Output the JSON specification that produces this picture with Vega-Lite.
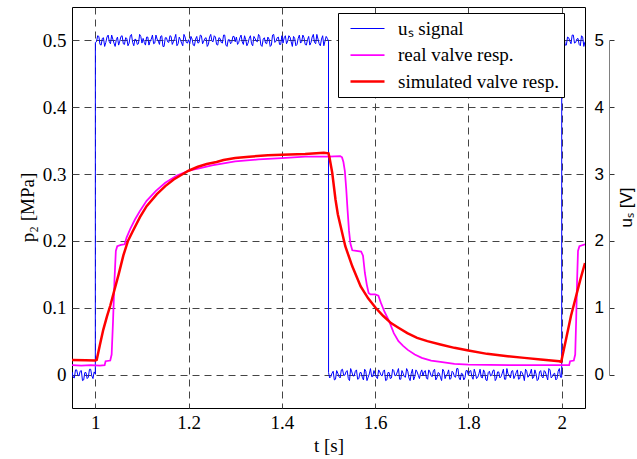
{
  "$schema": "https://vega.github.io/schema/vega-lite/v6.json",
  "width": 513,
  "height": 401,
  "autosize": {"type": "none"},
  "padding": {"left": 72, "top": 7, "right": 52, "bottom": 51},
  "background": "white",
  "config": {
    "view": {"stroke": "#000000", "strokeWidth": 1},
    "font": "Liberation Serif",
    "legend": {
      "title": null, "orient": "none", "legendX": 266, "legendY": 6,
      "symbolType": "M-1.7,0H1.7", "symbolSize": 400, "symbolOffset": 13,
      "labelFont": "Liberation Serif", "labelFontSize": 19, "labelColor": "#000000", "labelOffset": 19, "labelLimit": 400,
      "rowPadding": 5, "padding": 5,
      "fillColor": "#FFFFFF", "strokeColor": "#000000"
    }
  },
  "datasets": {
    "us": [
      {"t": 0.95, "u": 0.04}, {"t": 0.955, "u": -0.05}, {"t": 0.96, "u": 0.07}, {"t": 0.965, "u": -0.02}, {"t": 0.97, "u": 0.06}, {"t": 0.975, "u": -0.08}, {"t": 0.98, "u": 0.03}, {"t": 0.985, "u": -0.04}, {"t": 0.99, "u": 0.08}, {"t": 0.995, "u": -0.06}, {"t": 1.0, "u": 0.01},
      {"t": 1.0001, "u": 4.97}, {"t": 1.005, "u": 5.07}, {"t": 1.01, "u": 4.94}, {"t": 1.015, "u": 5.03}, {"t": 1.02, "u": 4.91}, {"t": 1.025, "u": 5.05}, {"t": 1.03, "u": 4.98}, {"t": 1.035, "u": 5.08}, {"t": 1.04, "u": 4.96}, {"t": 1.045, "u": 5.01}, {"t": 1.05, "u": 4.93}, {"t": 1.055, "u": 5.06}, {"t": 1.06, "u": 4.95}, {"t": 1.065, "u": 5.04}, {"t": 1.07, "u": 4.92}, {"t": 1.075, "u": 5.07}, {"t": 1.08, "u": 4.97}, {"t": 1.085, "u": 5.02}, {"t": 1.09, "u": 4.94}, {"t": 1.095, "u": 5.09}, {"t": 1.1, "u": 4.96},
      {"t": 1.105, "u": 4.97}, {"t": 1.11, "u": 5.05}, {"t": 1.115, "u": 4.93}, {"t": 1.12, "u": 5.02}, {"t": 1.125, "u": 4.95}, {"t": 1.13, "u": 5.08}, {"t": 1.135, "u": 4.99}, {"t": 1.14, "u": 5.06}, {"t": 1.145, "u": 4.91}, {"t": 1.15, "u": 5.04}, {"t": 1.155, "u": 4.98}, {"t": 1.16, "u": 5.07}, {"t": 1.165, "u": 4.94}, {"t": 1.17, "u": 5.03}, {"t": 1.175, "u": 4.92}, {"t": 1.18, "u": 5.05}, {"t": 1.185, "u": 4.96}, {"t": 1.19, "u": 5.09}, {"t": 1.195, "u": 4.97}, {"t": 1.2, "u": 5.01},
      {"t": 1.205, "u": 5.06}, {"t": 1.21, "u": 4.93}, {"t": 1.215, "u": 5.02}, {"t": 1.22, "u": 4.96}, {"t": 1.225, "u": 5.08}, {"t": 1.23, "u": 4.95}, {"t": 1.235, "u": 5.03}, {"t": 1.24, "u": 4.91}, {"t": 1.245, "u": 5.05}, {"t": 1.25, "u": 4.99}, {"t": 1.255, "u": 5.07}, {"t": 1.26, "u": 4.94}, {"t": 1.265, "u": 5.04}, {"t": 1.27, "u": 4.97}, {"t": 1.275, "u": 5.08}, {"t": 1.28, "u": 4.93}, {"t": 1.285, "u": 5.01}, {"t": 1.29, "u": 4.95}, {"t": 1.295, "u": 5.06}, {"t": 1.3, "u": 4.98},
      {"t": 1.305, "u": 4.94}, {"t": 1.31, "u": 5.04}, {"t": 1.315, "u": 4.98}, {"t": 1.32, "u": 5.07}, {"t": 1.325, "u": 4.92}, {"t": 1.33, "u": 5.03}, {"t": 1.335, "u": 4.95}, {"t": 1.34, "u": 5.06}, {"t": 1.345, "u": 4.99}, {"t": 1.35, "u": 5.09}, {"t": 1.355, "u": 4.93}, {"t": 1.36, "u": 5.02}, {"t": 1.365, "u": 4.96}, {"t": 1.37, "u": 5.05}, {"t": 1.375, "u": 4.91}, {"t": 1.38, "u": 5.08}, {"t": 1.385, "u": 4.97}, {"t": 1.39, "u": 5.04}, {"t": 1.395, "u": 4.94}, {"t": 1.4, "u": 5.07},
      {"t": 1.405, "u": 5.04}, {"t": 1.41, "u": 4.95}, {"t": 1.415, "u": 5.07}, {"t": 1.42, "u": 4.98}, {"t": 1.425, "u": 5.06}, {"t": 1.43, "u": 4.92}, {"t": 1.435, "u": 5.03}, {"t": 1.44, "u": 4.96}, {"t": 1.445, "u": 5.08}, {"t": 1.45, "u": 4.94}, {"t": 1.455, "u": 5.01}, {"t": 1.46, "u": 4.93}, {"t": 1.465, "u": 5.05}, {"t": 1.47, "u": 4.97}, {"t": 1.475, "u": 5.09}, {"t": 1.48, "u": 4.95}, {"t": 1.485, "u": 5.02}, {"t": 1.49, "u": 4.92}, {"t": 1.495, "u": 5.06}, {"t": 1.5, "u": 4.99},
      {"t": 1.5001, "u": 0.03},
      {"t": 1.505, "u": -0.03}, {"t": 1.51, "u": 0.05}, {"t": 1.515, "u": -0.07}, {"t": 1.52, "u": 0.02}, {"t": 1.525, "u": -0.05}, {"t": 1.53, "u": 0.08}, {"t": 1.535, "u": -0.01}, {"t": 1.54, "u": 0.06}, {"t": 1.545, "u": -0.09}, {"t": 1.55, "u": 0.04}, {"t": 1.555, "u": -0.02}, {"t": 1.56, "u": 0.07}, {"t": 1.565, "u": -0.06}, {"t": 1.57, "u": 0.03}, {"t": 1.575, "u": -0.08}, {"t": 1.58, "u": 0.05}, {"t": 1.585, "u": -0.04}, {"t": 1.59, "u": 0.09}, {"t": 1.595, "u": -0.03}, {"t": 1.6, "u": 0.01},
      {"t": 1.605, "u": -0.06}, {"t": 1.61, "u": 0.04}, {"t": 1.615, "u": -0.02}, {"t": 1.62, "u": 0.07}, {"t": 1.625, "u": -0.08}, {"t": 1.63, "u": 0.03}, {"t": 1.635, "u": -0.05}, {"t": 1.64, "u": 0.06}, {"t": 1.645, "u": -0.01}, {"t": 1.65, "u": 0.09}, {"t": 1.655, "u": -0.07}, {"t": 1.66, "u": 0.02}, {"t": 1.665, "u": -0.04}, {"t": 1.67, "u": 0.05}, {"t": 1.675, "u": -0.09}, {"t": 1.68, "u": 0.08}, {"t": 1.685, "u": -0.03}, {"t": 1.69, "u": 0.04}, {"t": 1.695, "u": -0.06}, {"t": 1.7, "u": 0.07},
      {"t": 1.705, "u": 0.04}, {"t": 1.71, "u": -0.05}, {"t": 1.715, "u": 0.07}, {"t": 1.72, "u": -0.02}, {"t": 1.725, "u": 0.06}, {"t": 1.73, "u": -0.08}, {"t": 1.735, "u": 0.03}, {"t": 1.74, "u": -0.04}, {"t": 1.745, "u": 0.08}, {"t": 1.75, "u": -0.06}, {"t": 1.755, "u": 0.01}, {"t": 1.76, "u": -0.07}, {"t": 1.765, "u": 0.05}, {"t": 1.77, "u": -0.03}, {"t": 1.775, "u": 0.09}, {"t": 1.78, "u": -0.05}, {"t": 1.785, "u": 0.02}, {"t": 1.79, "u": -0.08}, {"t": 1.795, "u": 0.06}, {"t": 1.8, "u": -0.01},
      {"t": 1.805, "u": 0.06}, {"t": 1.81, "u": -0.07}, {"t": 1.815, "u": 0.02}, {"t": 1.82, "u": -0.04}, {"t": 1.825, "u": 0.08}, {"t": 1.83, "u": -0.05}, {"t": 1.835, "u": 0.03}, {"t": 1.84, "u": -0.09}, {"t": 1.845, "u": 0.05}, {"t": 1.85, "u": -0.01}, {"t": 1.855, "u": 0.07}, {"t": 1.86, "u": -0.06}, {"t": 1.865, "u": 0.04}, {"t": 1.87, "u": -0.03}, {"t": 1.875, "u": 0.08}, {"t": 1.88, "u": -0.07}, {"t": 1.885, "u": 0.01}, {"t": 1.89, "u": -0.05}, {"t": 1.895, "u": 0.06}, {"t": 1.9, "u": -0.02},
      {"t": 1.905, "u": 0.07}, {"t": 1.91, "u": -0.06}, {"t": 1.915, "u": 0.03}, {"t": 1.92, "u": -0.09}, {"t": 1.925, "u": 0.05}, {"t": 1.93, "u": -0.02}, {"t": 1.935, "u": 0.08}, {"t": 1.94, "u": -0.04}, {"t": 1.945, "u": 0.01}, {"t": 1.95, "u": -0.07}, {"t": 1.955, "u": 0.06}, {"t": 1.96, "u": -0.05}, {"t": 1.965, "u": 0.04}, {"t": 1.97, "u": -0.08}, {"t": 1.975, "u": 0.07}, {"t": 1.98, "u": -0.03}, {"t": 1.985, "u": 0.02}, {"t": 1.99, "u": -0.06}, {"t": 1.995, "u": 0.09}, {"t": 2.0, "u": -0.04},
      {"t": 2.0001, "u": 4.96}, {"t": 2.005, "u": 5.06}, {"t": 2.01, "u": 4.93}, {"t": 2.015, "u": 5.04}, {"t": 2.02, "u": 4.95}, {"t": 2.025, "u": 5.08}, {"t": 2.03, "u": 4.97}, {"t": 2.035, "u": 5.03}, {"t": 2.04, "u": 4.92}, {"t": 2.045, "u": 5.05}, {"t": 2.05, "u": 4.98},
      {"t": 0.9525, "u": -0.04}, {"t": 0.9575, "u": 0.07}, {"t": 0.9625, "u": -0.01}, {"t": 0.9675, "u": 0.05}, {"t": 0.9725, "u": -0.09}, {"t": 0.9775, "u": 0.03}, {"t": 0.9825, "u": -0.06}, {"t": 0.9875, "u": 0.08}, {"t": 0.9925, "u": -0.02}, {"t": 0.9975, "u": 0.04},
      {"t": 1.0025, "u": 4.98}, {"t": 1.0075, "u": 5.06}, {"t": 1.0125, "u": 4.93}, {"t": 1.0175, "u": 5.04}, {"t": 1.0225, "u": 4.97}, {"t": 1.0275, "u": 5.08}, {"t": 1.0325, "u": 4.95}, {"t": 1.0375, "u": 5.02}, {"t": 1.0425, "u": 4.91}, {"t": 1.0475, "u": 5.05}, {"t": 1.0525, "u": 4.99}, {"t": 1.0575, "u": 5.07}, {"t": 1.0625, "u": 4.94}, {"t": 1.0675, "u": 5.03}, {"t": 1.0725, "u": 4.96}, {"t": 1.0775, "u": 5.09}, {"t": 1.0825, "u": 4.92}, {"t": 1.0875, "u": 5.01}, {"t": 1.0925, "u": 4.95}, {"t": 1.0975, "u": 5.06},
      {"t": 1.1025, "u": 5.03}, {"t": 1.1075, "u": 4.93}, {"t": 1.1125, "u": 5.05}, {"t": 1.1175, "u": 4.99}, {"t": 1.1225, "u": 5.08}, {"t": 1.1275, "u": 4.96}, {"t": 1.1325, "u": 5.02}, {"t": 1.1375, "u": 4.94}, {"t": 1.1425, "u": 5.07}, {"t": 1.1475, "u": 4.91}, {"t": 1.1525, "u": 5.04}, {"t": 1.1575, "u": 4.97}, {"t": 1.1625, "u": 5.06}, {"t": 1.1675, "u": 4.98}, {"t": 1.1725, "u": 5.09}, {"t": 1.1775, "u": 4.95}, {"t": 1.1825, "u": 5.01}, {"t": 1.1875, "u": 4.92}, {"t": 1.1925, "u": 5.05}, {"t": 1.1975, "u": 4.96},
      {"t": 1.2025, "u": 4.95}, {"t": 1.2075, "u": 5.02}, {"t": 1.2125, "u": 4.92}, {"t": 1.2175, "u": 5.06}, {"t": 1.2225, "u": 4.97}, {"t": 1.2275, "u": 5.07}, {"t": 1.2325, "u": 4.99}, {"t": 1.2375, "u": 5.04}, {"t": 1.2425, "u": 4.94}, {"t": 1.2475, "u": 5.09}, {"t": 1.2525, "u": 4.98}, {"t": 1.2575, "u": 5.05}, {"t": 1.2625, "u": 4.93}, {"t": 1.2675, "u": 5.03}, {"t": 1.2725, "u": 4.96}, {"t": 1.2775, "u": 5.08}, {"t": 1.2825, "u": 4.91}, {"t": 1.2875, "u": 5.01}, {"t": 1.2925, "u": 4.97}, {"t": 1.2975, "u": 5.06},
      {"t": 1.3025, "u": 5.05}, {"t": 1.3075, "u": 4.97}, {"t": 1.3125, "u": 5.08}, {"t": 1.3175, "u": 4.94}, {"t": 1.3225, "u": 5.01}, {"t": 1.3275, "u": 4.96}, {"t": 1.3325, "u": 5.07}, {"t": 1.3375, "u": 4.92}, {"t": 1.3425, "u": 5.03}, {"t": 1.3475, "u": 4.98}, {"t": 1.3525, "u": 5.06}, {"t": 1.3575, "u": 4.91}, {"t": 1.3625, "u": 5.04}, {"t": 1.3675, "u": 4.95}, {"t": 1.3725, "u": 5.02}, {"t": 1.3775, "u": 4.93}, {"t": 1.3825, "u": 5.09}, {"t": 1.3875, "u": 4.99}, {"t": 1.3925, "u": 5.05}, {"t": 1.3975, "u": 4.94},
      {"t": 1.4025, "u": 4.96}, {"t": 1.4075, "u": 5.07}, {"t": 1.4125, "u": 4.99}, {"t": 1.4175, "u": 5.05}, {"t": 1.4225, "u": 4.91}, {"t": 1.4275, "u": 5.03}, {"t": 1.4325, "u": 4.94}, {"t": 1.4375, "u": 5.08}, {"t": 1.4425, "u": 4.98}, {"t": 1.4475, "u": 5.04}, {"t": 1.4525, "u": 4.93}, {"t": 1.4575, "u": 5.06}, {"t": 1.4625, "u": 4.97}, {"t": 1.4675, "u": 5.09}, {"t": 1.4725, "u": 4.95}, {"t": 1.4775, "u": 5.02}, {"t": 1.4825, "u": 4.92}, {"t": 1.4875, "u": 5.07}, {"t": 1.4925, "u": 4.99}, {"t": 1.4975, "u": 5.03},
      {"t": 1.5025, "u": -0.05}, {"t": 1.5075, "u": 0.02}, {"t": 1.5125, "u": -0.08}, {"t": 1.5175, "u": 0.06}, {"t": 1.5225, "u": -0.03}, {"t": 1.5275, "u": 0.07}, {"t": 1.5325, "u": -0.01}, {"t": 1.5375, "u": 0.04}, {"t": 1.5425, "u": -0.06}, {"t": 1.5475, "u": 0.09}, {"t": 1.5525, "u": -0.02}, {"t": 1.5575, "u": 0.05}, {"t": 1.5625, "u": -0.07}, {"t": 1.5675, "u": 0.03}, {"t": 1.5725, "u": -0.04}, {"t": 1.5775, "u": 0.08}, {"t": 1.5825, "u": -0.09}, {"t": 1.5875, "u": 0.01}, {"t": 1.5925, "u": -0.03}, {"t": 1.5975, "u": 0.06},
      {"t": 1.6025, "u": -0.04}, {"t": 1.6075, "u": 0.07}, {"t": 1.6125, "u": -0.01}, {"t": 1.6175, "u": 0.05}, {"t": 1.6225, "u": -0.09}, {"t": 1.6275, "u": 0.03}, {"t": 1.6325, "u": -0.06}, {"t": 1.6375, "u": 0.08}, {"t": 1.6425, "u": -0.02}, {"t": 1.6475, "u": 0.04}, {"t": 1.6525, "u": -0.07}, {"t": 1.6575, "u": 0.06}, {"t": 1.6625, "u": -0.03}, {"t": 1.6675, "u": 0.09}, {"t": 1.6725, "u": -0.05}, {"t": 1.6775, "u": 0.02}, {"t": 1.6825, "u": -0.08}, {"t": 1.6875, "u": 0.07}, {"t": 1.6925, "u": -0.01}, {"t": 1.6975, "u": 0.03},
      {"t": 1.7025, "u": -0.02}, {"t": 1.7075, "u": 0.06}, {"t": 1.7125, "u": -0.07}, {"t": 1.7175, "u": 0.04}, {"t": 1.7225, "u": -0.03}, {"t": 1.7275, "u": 0.08}, {"t": 1.7325, "u": -0.05}, {"t": 1.7375, "u": 0.02}, {"t": 1.7425, "u": -0.09}, {"t": 1.7475, "u": 0.05}, {"t": 1.7525, "u": -0.01}, {"t": 1.7575, "u": 0.07}, {"t": 1.7625, "u": -0.06}, {"t": 1.7675, "u": 0.03}, {"t": 1.7725, "u": -0.04}, {"t": 1.7775, "u": 0.09}, {"t": 1.7825, "u": -0.08}, {"t": 1.7875, "u": 0.01}, {"t": 1.7925, "u": -0.05}, {"t": 1.7975, "u": 0.06},
      {"t": 1.8025, "u": 0.05}, {"t": 1.8075, "u": -0.03}, {"t": 1.8125, "u": 0.08}, {"t": 1.8175, "u": -0.06}, {"t": 1.8225, "u": 0.01}, {"t": 1.8275, "u": -0.04}, {"t": 1.8325, "u": 0.07}, {"t": 1.8375, "u": -0.08}, {"t": 1.8425, "u": 0.03}, {"t": 1.8475, "u": -0.02}, {"t": 1.8525, "u": 0.06}, {"t": 1.8575, "u": -0.09}, {"t": 1.8625, "u": 0.04}, {"t": 1.8675, "u": -0.05}, {"t": 1.8725, "u": 0.02}, {"t": 1.8775, "u": -0.07}, {"t": 1.8825, "u": 0.09}, {"t": 1.8875, "u": -0.01}, {"t": 1.8925, "u": 0.05}, {"t": 1.8975, "u": -0.06},
      {"t": 1.9025, "u": 0.03}, {"t": 1.9075, "u": -0.07}, {"t": 1.9125, "u": 0.05}, {"t": 1.9175, "u": -0.01}, {"t": 1.9225, "u": 0.08}, {"t": 1.9275, "u": -0.04}, {"t": 1.9325, "u": 0.02}, {"t": 1.9375, "u": -0.06}, {"t": 1.9425, "u": 0.07}, {"t": 1.9475, "u": -0.09}, {"t": 1.9525, "u": 0.04}, {"t": 1.9575, "u": -0.03}, {"t": 1.9625, "u": 0.06}, {"t": 1.9675, "u": -0.02}, {"t": 1.9725, "u": 0.09}, {"t": 1.9775, "u": -0.05}, {"t": 1.9825, "u": 0.01}, {"t": 1.9875, "u": -0.08}, {"t": 1.9925, "u": 0.05}, {"t": 1.9975, "u": -0.04},
      {"t": 2.0025, "u": 5.03}, {"t": 2.0075, "u": 4.93}, {"t": 2.0125, "u": 5.05}, {"t": 2.0175, "u": 4.99}, {"t": 2.0225, "u": 5.08}, {"t": 2.0275, "u": 4.96}, {"t": 2.0325, "u": 5.02}, {"t": 2.0375, "u": 4.94}, {"t": 2.0425, "u": 5.07}, {"t": 2.0475, "u": 4.91}
    ],
    "p": [
      {"t": 0.95, "p": 0.014, "s": "real valve resp."}, {"t": 0.97, "p": 0.0135, "s": "real valve resp."}, {"t": 0.99, "p": 0.014, "s": "real valve resp."}, {"t": 1.01, "p": 0.0135, "s": "real valve resp."}, {"t": 1.02, "p": 0.014, "s": "real valve resp."}, {"t": 1.022, "p": 0.02, "s": "real valve resp."}, {"t": 1.032, "p": 0.021, "s": "real valve resp."}, {"t": 1.035, "p": 0.03, "s": "real valve resp."}, {"t": 1.038, "p": 0.08, "s": "real valve resp."}, {"t": 1.041, "p": 0.14, "s": "real valve resp."}, {"t": 1.044, "p": 0.185, "s": "real valve resp."}, {"t": 1.047, "p": 0.192, "s": "real valve resp."}, {"t": 1.055, "p": 0.194, "s": "real valve resp."}, {"t": 1.063, "p": 0.195, "s": "real valve resp."}, {"t": 1.067, "p": 0.205, "s": "real valve resp."}, {"t": 1.075, "p": 0.218, "s": "real valve resp."}, {"t": 1.085, "p": 0.232, "s": "real valve resp."}, {"t": 1.095, "p": 0.244, "s": "real valve resp."}, {"t": 1.11, "p": 0.26, "s": "real valve resp."}, {"t": 1.13, "p": 0.275, "s": "real valve resp."}, {"t": 1.15, "p": 0.287, "s": "real valve resp."}, {"t": 1.175, "p": 0.298, "s": "real valve resp."}, {"t": 1.2, "p": 0.305, "s": "real valve resp."}, {"t": 1.225, "p": 0.309, "s": "real valve resp."}, {"t": 1.25, "p": 0.313, "s": "real valve resp."}, {"t": 1.275, "p": 0.316, "s": "real valve resp."}, {"t": 1.3, "p": 0.319, "s": "real valve resp."}, {"t": 1.35, "p": 0.322, "s": "real valve resp."}, {"t": 1.4, "p": 0.324, "s": "real valve resp."}, {"t": 1.45, "p": 0.326, "s": "real valve resp."}, {"t": 1.5, "p": 0.326, "s": "real valve resp."}, {"t": 1.525, "p": 0.327, "s": "real valve resp."}, {"t": 1.529, "p": 0.325, "s": "real valve resp."}, {"t": 1.532, "p": 0.318, "s": "real valve resp."}, {"t": 1.535, "p": 0.305, "s": "real valve resp."}, {"t": 1.538, "p": 0.278, "s": "real valve resp."}, {"t": 1.541, "p": 0.245, "s": "real valve resp."}, {"t": 1.544, "p": 0.215, "s": "real valve resp."}, {"t": 1.547, "p": 0.196, "s": "real valve resp."}, {"t": 1.551, "p": 0.186, "s": "real valve resp."}, {"t": 1.56, "p": 0.185, "s": "real valve resp."}, {"t": 1.57, "p": 0.184, "s": "real valve resp."}, {"t": 1.574, "p": 0.178, "s": "real valve resp."}, {"t": 1.578, "p": 0.152, "s": "real valve resp."}, {"t": 1.582, "p": 0.135, "s": "real valve resp."}, {"t": 1.586, "p": 0.122, "s": "real valve resp."}, {"t": 1.59, "p": 0.12, "s": "real valve resp."}, {"t": 1.6, "p": 0.12, "s": "real valve resp."}, {"t": 1.607, "p": 0.118, "s": "real valve resp."}, {"t": 1.612, "p": 0.108, "s": "real valve resp."}, {"t": 1.62, "p": 0.094, "s": "real valve resp."}, {"t": 1.63, "p": 0.08, "s": "real valve resp."}, {"t": 1.64, "p": 0.062, "s": "real valve resp."}, {"t": 1.65, "p": 0.05, "s": "real valve resp."}, {"t": 1.66, "p": 0.043, "s": "real valve resp."}, {"t": 1.67, "p": 0.037, "s": "real valve resp."}, {"t": 1.685, "p": 0.03, "s": "real valve resp."}, {"t": 1.7, "p": 0.025, "s": "real valve resp."}, {"t": 1.72, "p": 0.021, "s": "real valve resp."}, {"t": 1.74, "p": 0.019, "s": "real valve resp."}, {"t": 1.77, "p": 0.016, "s": "real valve resp."}, {"t": 1.8, "p": 0.015, "s": "real valve resp."}, {"t": 1.9, "p": 0.014, "s": "real valve resp."}, {"t": 2.0, "p": 0.014, "s": "real valve resp."}, {"t": 2.016, "p": 0.014, "s": "real valve resp."}, {"t": 2.018, "p": 0.02, "s": "real valve resp."}, {"t": 2.026, "p": 0.021, "s": "real valve resp."}, {"t": 2.029, "p": 0.03, "s": "real valve resp."}, {"t": 2.031, "p": 0.08, "s": "real valve resp."}, {"t": 2.033, "p": 0.14, "s": "real valve resp."}, {"t": 2.035, "p": 0.185, "s": "real valve resp."}, {"t": 2.038, "p": 0.192, "s": "real valve resp."}, {"t": 2.05, "p": 0.195, "s": "real valve resp."},
      {"t": 0.95, "p": 0.022, "s": "simulated valve resp."}, {"t": 0.98, "p": 0.0215, "s": "simulated valve resp."}, {"t": 1.0, "p": 0.021, "s": "simulated valve resp."}, {"t": 1.003, "p": 0.022, "s": "simulated valve resp."}, {"t": 1.01, "p": 0.045, "s": "simulated valve resp."}, {"t": 1.017, "p": 0.067, "s": "simulated valve resp."}, {"t": 1.025, "p": 0.087, "s": "simulated valve resp."}, {"t": 1.032, "p": 0.103, "s": "simulated valve resp."}, {"t": 1.04, "p": 0.124, "s": "simulated valve resp."}, {"t": 1.05, "p": 0.15, "s": "simulated valve resp."}, {"t": 1.06, "p": 0.178, "s": "simulated valve resp."}, {"t": 1.07, "p": 0.2, "s": "simulated valve resp."}, {"t": 1.08, "p": 0.214, "s": "simulated valve resp."}, {"t": 1.096, "p": 0.236, "s": "simulated valve resp."}, {"t": 1.11, "p": 0.252, "s": "simulated valve resp."}, {"t": 1.132, "p": 0.27, "s": "simulated valve resp."}, {"t": 1.15, "p": 0.282, "s": "simulated valve resp."}, {"t": 1.168, "p": 0.292, "s": "simulated valve resp."}, {"t": 1.185, "p": 0.299, "s": "simulated valve resp."}, {"t": 1.2, "p": 0.305, "s": "simulated valve resp."}, {"t": 1.22, "p": 0.311, "s": "simulated valve resp."}, {"t": 1.239, "p": 0.315, "s": "simulated valve resp."}, {"t": 1.26, "p": 0.318, "s": "simulated valve resp."}, {"t": 1.275, "p": 0.321, "s": "simulated valve resp."}, {"t": 1.3, "p": 0.324, "s": "simulated valve resp."}, {"t": 1.33, "p": 0.326, "s": "simulated valve resp."}, {"t": 1.37, "p": 0.328, "s": "simulated valve resp."}, {"t": 1.4, "p": 0.329, "s": "simulated valve resp."}, {"t": 1.45, "p": 0.33, "s": "simulated valve resp."}, {"t": 1.49, "p": 0.332, "s": "simulated valve resp."}, {"t": 1.5, "p": 0.331, "s": "simulated valve resp."}, {"t": 1.502, "p": 0.325, "s": "simulated valve resp."}, {"t": 1.508, "p": 0.302, "s": "simulated valve resp."}, {"t": 1.515, "p": 0.262, "s": "simulated valve resp."}, {"t": 1.52, "p": 0.24, "s": "simulated valve resp."}, {"t": 1.526, "p": 0.222, "s": "simulated valve resp."}, {"t": 1.536, "p": 0.192, "s": "simulated valve resp."}, {"t": 1.551, "p": 0.162, "s": "simulated valve resp."}, {"t": 1.569, "p": 0.132, "s": "simulated valve resp."}, {"t": 1.585, "p": 0.114, "s": "simulated valve resp."}, {"t": 1.601, "p": 0.1, "s": "simulated valve resp."}, {"t": 1.617, "p": 0.088, "s": "simulated valve resp."}, {"t": 1.634, "p": 0.077, "s": "simulated valve resp."}, {"t": 1.65, "p": 0.07, "s": "simulated valve resp."}, {"t": 1.669, "p": 0.062, "s": "simulated valve resp."}, {"t": 1.69, "p": 0.055, "s": "simulated valve resp."}, {"t": 1.712, "p": 0.05, "s": "simulated valve resp."}, {"t": 1.74, "p": 0.045, "s": "simulated valve resp."}, {"t": 1.77, "p": 0.04, "s": "simulated valve resp."}, {"t": 1.8, "p": 0.036, "s": "simulated valve resp."}, {"t": 1.84, "p": 0.031, "s": "simulated valve resp."}, {"t": 1.884, "p": 0.0275, "s": "simulated valve resp."}, {"t": 1.92, "p": 0.025, "s": "simulated valve resp."}, {"t": 1.955, "p": 0.0225, "s": "simulated valve resp."}, {"t": 1.995, "p": 0.02, "s": "simulated valve resp."}, {"t": 1.999, "p": 0.019, "s": "simulated valve resp."}, {"t": 2.01, "p": 0.055, "s": "simulated valve resp."}, {"t": 2.02, "p": 0.088, "s": "simulated valve resp."}, {"t": 2.03, "p": 0.115, "s": "simulated valve resp."}, {"t": 2.04, "p": 0.142, "s": "simulated valve resp."}, {"t": 2.05, "p": 0.167, "s": "simulated valve resp."}
    ]
  },
  "layer": [
    {
      "data": {"name": "us"},
      "mark": {"type": "line", "clip": true},
      "encoding": {
        "x": {
          "field": "t", "type": "quantitative",
          "scale": {"domain": [0.95, 2.05], "nice": false, "zero": false},
          "axis": {
            "values": [1, 1.2, 1.4, 1.6, 1.8, 2], "format": ".1~f",
            "title": "t [s]", "titleFont": "Liberation Serif", "titleFontSize": 19, "titleFontWeight": "normal", "titleColor": "#000000",
            "titleY": 37, "titleBaseline": "middle",
            "labelFont": "Liberation Serif", "labelFontSize": 19, "labelColor": "#000000", "labelPadding": 5,
            "ticks": false, "domain": false,
            "grid": true, "gridColor": "#444444", "gridDash": [7, 5], "gridOpacity": 1, "gridWidth": 1
          }
        },
        "y": {
          "field": "u", "type": "quantitative",
          "scale": {"domain": [-0.5, 5.5], "nice": false, "zero": false},
          "axis": {
            "orient": "right", "offset": 24, "values": [0, 1, 2, 3, 4, 5], "format": "d",
            "grid": false,
            "domainColor": "#808080", "domainDash": [334.2, 66.8], "domainDashOffset": 367.6,
            "ticks": true, "tickSize": 5, "tickColor": "#333333",
            "labelFont": "Liberation Sans", "labelFontSize": 17, "labelColor": "#000000",
            "labelAlign": "right", "labelPadding": -10.5,
            "title": "uₛ [V]", "titleFont": "Liberation Sans", "titleFontSize": 17, "titleFontWeight": "normal", "titleColor": "#000000",
            "titleAngle": 270, "titleX": 17, "titleY": 200, "titleAlign": "center", "titleBaseline": "middle"
          }
        },
        "color": {"datum": "uₛ signal", "type": "nominal",
          "scale": {"domain": ["uₛ signal", "real valve resp.", "simulated valve resp."], "range": ["#0000FF", "#FF00FF", "#FF0000"]}},
        "strokeWidth": {"datum": "uₛ signal", "type": "nominal",
          "scale": {"domain": ["uₛ signal", "real valve resp.", "simulated valve resp."], "range": [1, 2.5, 4.5]}}
      }
    },
    {
      "data": {"name": "p"},
      "mark": {"type": "line", "clip": true},
      "encoding": {
        "x": {"field": "t", "type": "quantitative", "scale": {"domain": [0.95, 2.05], "nice": false, "zero": false}},
        "y": {
          "field": "p", "type": "quantitative",
          "scale": {"domain": [-0.05, 0.55], "nice": false, "zero": false},
          "axis": {
            "orient": "left", "values": [0, 0.1, 0.2, 0.3, 0.4, 0.5], "format": ".1~f",
            "title": "p₂ [MPa]", "titleFont": "Liberation Serif", "titleFontSize": 19, "titleFontWeight": "normal", "titleColor": "#000000",
            "titleAngle": -90, "titleX": -45, "titleY": 200, "titleAlign": "center", "titleBaseline": "middle",
            "labelFont": "Liberation Serif", "labelFontSize": 19, "labelColor": "#000000", "labelPadding": 6,
            "ticks": false, "domain": false,
            "grid": true, "gridColor": "#444444", "gridDash": [7, 5], "gridOpacity": 1, "gridWidth": 1
          }
        },
        "color": {"field": "s", "type": "nominal",
          "scale": {"domain": ["uₛ signal", "real valve resp.", "simulated valve resp."], "range": ["#0000FF", "#FF00FF", "#FF0000"]}},
        "strokeWidth": {"field": "s", "type": "nominal",
          "scale": {"domain": ["uₛ signal", "real valve resp.", "simulated valve resp."], "range": [1, 2.5, 4.5]}}
      }
    }
  ],
  "resolve": {"scale": {"y": "independent"}}
}
